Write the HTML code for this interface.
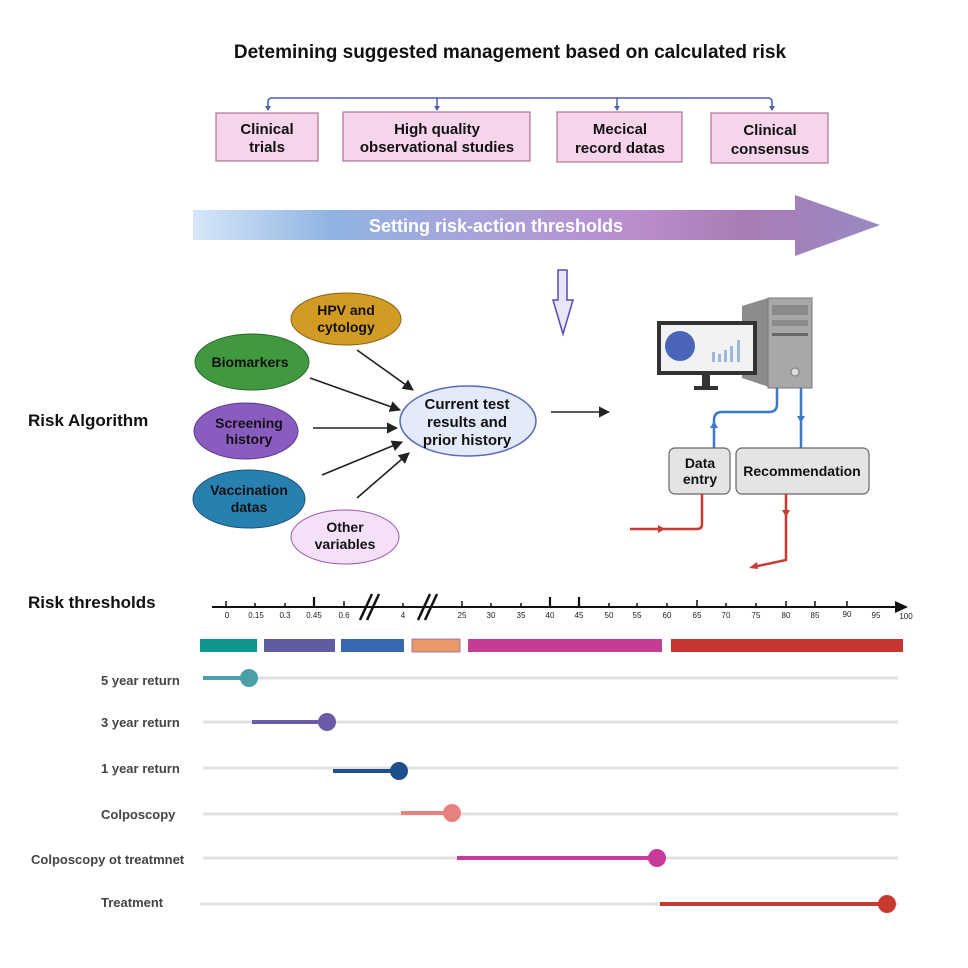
<!DOCTYPE html>
<html><head><meta charset="utf-8"><style>
html,body{margin:0;padding:0;background:#fff}
svg{display:block;font-family:"Liberation Sans",Arial,sans-serif}
</style></head><body>
<svg width="968" height="968" viewBox="0 0 968 968" xmlns="http://www.w3.org/2000/svg">
<defs>
<linearGradient id="g" x1="193" x2="880" y1="0" y2="0" gradientUnits="userSpaceOnUse">
<stop offset="0" stop-color="#D6E7F9"/><stop offset="0.2" stop-color="#90B4E2"/><stop offset="0.4" stop-color="#A6A4DA"/><stop offset="0.65" stop-color="#BB8CCC"/><stop offset="0.8" stop-color="#A97CB6"/><stop offset="1" stop-color="#9889C2"/></linearGradient>
<marker id="ab" viewBox="0 0 10 10" refX="9" refY="5" markerWidth="7" markerHeight="7" orient="auto"><path d="M0,0L10,5L0,10z" fill="#222"/></marker>
</defs>
<text x="510" y="58" text-anchor="middle" font-size="19" font-weight="bold" fill="#111">Detemining suggested management based on calculated risk</text>
<path d="M268,108 V102 Q268,98 272,98 H768 Q772,98 772,102 V108" fill="none" stroke="#4A5DB0" stroke-width="1.5"/>
<line x1="437" y1="98" x2="437" y2="108" stroke="#4A5DB0" stroke-width="1.5"/>
<line x1="617" y1="98" x2="617" y2="108" stroke="#4A5DB0" stroke-width="1.5"/>
<g fill="#4A5DB0"><path d="M265,106h6l-3,5z"/><path d="M434,106h6l-3,5z"/><path d="M614,106h6l-3,5z"/><path d="M769,106h6l-3,5z"/></g>
<g fill="#F6D4EB" stroke="#B0708F" stroke-width="1.2">
<rect x="216" y="113" width="102" height="48"/><rect x="343" y="112" width="187" height="49"/><rect x="557" y="112" width="125" height="50"/><rect x="711" y="113" width="117" height="50"/></g>
<g font-size="15" font-weight="bold" fill="#111" text-anchor="middle">
<text x="267" y="134">Clinical</text><text x="267" y="152">trials</text>
<text x="437" y="134">High quality</text><text x="437" y="152">observational  studies</text>
<text x="620" y="134">Mecical</text><text x="620" y="153">record datas</text>
<text x="770" y="135">Clinical</text><text x="770" y="154">consensus</text></g>
<path d="M193,210 H795 V195 L880,225 L795,256 V240 H193z" fill="url(#g)"/>
<text x="496" y="232" text-anchor="middle" font-size="18" font-weight="bold" fill="#fff">Setting risk-action thresholds</text>
<path d="M558,270 H567 V300 H573 L563,334 L553,300 H558z" fill="#EAE6FA" stroke="#5A48B0" stroke-width="1.5"/>
<text x="28" y="426" font-size="17" font-weight="bold" fill="#111">Risk Algorithm</text>
<ellipse cx="346" cy="319" rx="55" ry="26" fill="#D29C24" stroke="#8A6418"/>
<ellipse cx="252" cy="362" rx="57" ry="28" fill="#40993F" stroke="#2C6A2C"/>
<ellipse cx="246" cy="431" rx="52" ry="28" fill="#8A5CC0" stroke="#5B3C85"/>
<ellipse cx="249" cy="499" rx="56" ry="29" fill="#2880B0" stroke="#1C5678"/>
<ellipse cx="345" cy="537" rx="54" ry="27" fill="#F4E0F8" stroke="#9A5AB0"/>
<ellipse cx="468" cy="421" rx="68" ry="35" fill="#E3EAFA" stroke="#5568B8" stroke-width="1.5"/>
<g font-size="14" font-weight="bold" fill="#111" text-anchor="middle">
<text x="346" y="315">HPV and</text><text x="346" y="332">cytology</text>
<text x="250" y="367">Biomarkers</text>
<text x="249" y="428">Screening</text><text x="249" y="444">history</text>
<text x="249" y="495">Vaccination</text><text x="249" y="512">datas</text>
<text x="345" y="532">Other</text><text x="345" y="549">variables</text>
<text x="467" y="409" font-size="15">Current test</text><text x="467" y="427" font-size="15">results and</text><text x="467" y="445" font-size="15">prior history</text></g>
<g stroke="#222" stroke-width="1.6" marker-end="url(#ab)">
<line x1="357" y1="350" x2="413" y2="390"/><line x1="310" y1="378" x2="400" y2="410"/>
<line x1="313" y1="428" x2="397" y2="428"/><line x1="322" y1="475" x2="402" y2="442"/>
<line x1="357" y1="498" x2="409" y2="453"/><line x1="551" y1="412" x2="609" y2="412"/></g>
<path d="M742,306 L768,298 H808 V388 H772 L742,378z" fill="#8C8C8C"/>
<rect x="768" y="298" width="44" height="90" fill="#A8A8A8" stroke="#777"/>
<rect x="772" y="305" width="36" height="10" fill="#8A8A8A"/><rect x="772" y="320" width="36" height="6" fill="#8A8A8A"/>
<rect x="772" y="333" width="36" height="3" fill="#666"/><circle cx="795" cy="372" r="4" fill="#ddd" stroke="#777"/>
<rect x="657" y="321" width="100" height="54" fill="#333"/>
<rect x="661" y="325" width="92" height="46" fill="#F2F2F4"/>
<rect x="702" y="375" width="8" height="12" fill="#333"/><rect x="694" y="386" width="24" height="4" fill="#333"/>
<circle cx="680" cy="346" r="15" fill="#4A64B8"/>
<g fill="#9FB8D8"><rect x="712" y="352" width="3" height="10"/><rect x="718" y="354" width="3" height="8"/><rect x="724" y="350" width="3" height="12"/><rect x="730" y="346" width="3" height="16"/><rect x="737" y="340" width="3" height="22"/></g>
<path d="M777,388 V404 Q777,412 769,412 H722 Q714,412 714,420 V448" fill="none" stroke="#3A7AC8" stroke-width="2.5"/>
<path d="M710,428 h8 l-4,-7z" fill="#3A7AC8"/>
<line x1="801" y1="388" x2="801" y2="448" stroke="#3A7AC8" stroke-width="2.5"/>
<path d="M797,416 h8 l-4,7z" fill="#3A7AC8"/>
<rect x="669" y="448" width="61" height="46" rx="6" fill="#E4E4E4" stroke="#666" stroke-width="1.2"/>
<rect x="736" y="448" width="133" height="46" rx="6" fill="#E4E4E4" stroke="#666" stroke-width="1.2"/>
<g font-size="14" font-weight="bold" fill="#111" text-anchor="middle"><text x="700" y="468">Data</text><text x="700" y="484">entry</text><text x="802" y="476">Recommendation</text></g>
<path d="M630,529 H697 Q702,529 702,524 V494" fill="none" stroke="#C83A32" stroke-width="2.5"/>
<path d="M658,525 l7,4 l-7,4z" fill="#C83A32"/>
<path d="M786,494 V560 L753,567" fill="none" stroke="#C83A32" stroke-width="2.5"/>
<path d="M782,510 h8 l-4,7z" fill="#C83A32"/><path d="M749,568 l8,-6 l1,7z" fill="#C83A32"/>
<text x="28" y="608" font-size="17" font-weight="bold" fill="#111">Risk thresholds</text>
<line x1="212" y1="607" x2="898" y2="607" stroke="#111" stroke-width="2"/>
<path d="M895,601 L908,607 L895,613z" fill="#111"/>
<g stroke="#111" stroke-width="1.5">
<line x1="226" y1="601" x2="226" y2="607"/><line x1="255" y1="603" x2="255" y2="607"/><line x1="285" y1="603" x2="285" y2="607"/><line x1="314" y1="597" x2="314" y2="607" stroke-width="2.2"/><line x1="344" y1="601" x2="344" y2="607"/><line x1="403" y1="603" x2="403" y2="607"/>
<line x1="462" y1="601" x2="462" y2="607"/><line x1="491" y1="603" x2="491" y2="607"/><line x1="521" y1="603" x2="521" y2="607"/><line x1="550" y1="597" x2="550" y2="607" stroke-width="2.2"/><line x1="579" y1="597" x2="579" y2="607" stroke-width="2.2"/><line x1="609" y1="603" x2="609" y2="607"/><line x1="637" y1="603" x2="637" y2="607"/><line x1="667" y1="603" x2="667" y2="607"/><line x1="697" y1="600" x2="697" y2="607"/><line x1="726" y1="603" x2="726" y2="607"/><line x1="756" y1="603" x2="756" y2="607"/><line x1="786" y1="601" x2="786" y2="607"/><line x1="815" y1="601" x2="815" y2="607"/><line x1="847" y1="601" x2="847" y2="607"/></g>
<g stroke="#111" stroke-width="2.5"><line x1="360" y1="620" x2="372" y2="594"/><line x1="367" y1="620" x2="379" y2="594"/><line x1="418" y1="620" x2="430" y2="594"/><line x1="425" y1="620" x2="437" y2="594"/></g>
<g font-size="8" fill="#222" text-anchor="middle">
<text x="227" y="618">0</text><text x="256" y="618">0.15</text><text x="285" y="618">0.3</text><text x="314" y="618">0.45</text><text x="344" y="618">0.6</text><text x="403" y="618">4</text><text x="462" y="618">25</text><text x="491" y="618">30</text><text x="521" y="618">35</text><text x="550" y="618">40</text><text x="579" y="618">45</text><text x="609" y="618">50</text><text x="637" y="618">55</text><text x="667" y="618">60</text><text x="697" y="618">65</text><text x="726" y="618">70</text><text x="756" y="618">75</text><text x="786" y="618">80</text><text x="815" y="618">85</text><text x="847" y="617">90</text><text x="876" y="618">95</text><text x="906" y="619">100</text></g>
<rect x="200" y="639" width="57" height="13" fill="#0F9590"/>
<rect x="264" y="639" width="71" height="13" fill="#5F5CA0"/>
<rect x="341" y="639" width="63" height="13" fill="#3A68B0"/>
<rect x="412" y="639" width="48" height="13" fill="#EA9A68" stroke="#8A6AA8" stroke-width="0.8"/>
<rect x="468" y="639" width="194" height="13" fill="#C43C94"/>
<rect x="671" y="639" width="232" height="13" fill="#C83632"/>
<g font-size="13" font-weight="bold" fill="#444">
<text x="101" y="685">5 year return</text><text x="101" y="727">3 year return</text><text x="101" y="773">1 year return</text><text x="101" y="819">Colposcopy</text><text x="31" y="864">Colposcopy ot treatmnet</text><text x="101" y="907">Treatment</text></g>
<g stroke="#E0E0E0" stroke-width="3"><line x1="203" y1="678" x2="898" y2="678"/><line x1="203" y1="722" x2="898" y2="722"/><line x1="203" y1="768" x2="898" y2="768"/><line x1="203" y1="814" x2="898" y2="814"/><line x1="203" y1="858" x2="898" y2="858"/><line x1="200" y1="904" x2="898" y2="904"/></g>
<g stroke-width="4">
<line x1="203" y1="678" x2="249" y2="678" stroke="#4A9FA8"/><circle cx="249" cy="678" r="9" fill="#4A9FA8"/>
<line x1="252" y1="722" x2="327" y2="722" stroke="#6A5AA8"/><circle cx="327" cy="722" r="9" fill="#6A5AA8"/>
<line x1="333" y1="771" x2="399" y2="771" stroke="#1F4F8A"/><circle cx="399" cy="771" r="9" fill="#1F4F8A"/>
<line x1="401" y1="813" x2="452" y2="813" stroke="#E88080"/><circle cx="452" cy="813" r="9" fill="#E88080"/>
<line x1="457" y1="858" x2="657" y2="858" stroke="#C73A9A"/><circle cx="657" cy="858" r="9" fill="#C73A9A"/>
<line x1="660" y1="904" x2="887" y2="904" stroke="#C83A30"/><circle cx="887" cy="904" r="9" fill="#C83A30"/></g>
</svg>
</body></html>
